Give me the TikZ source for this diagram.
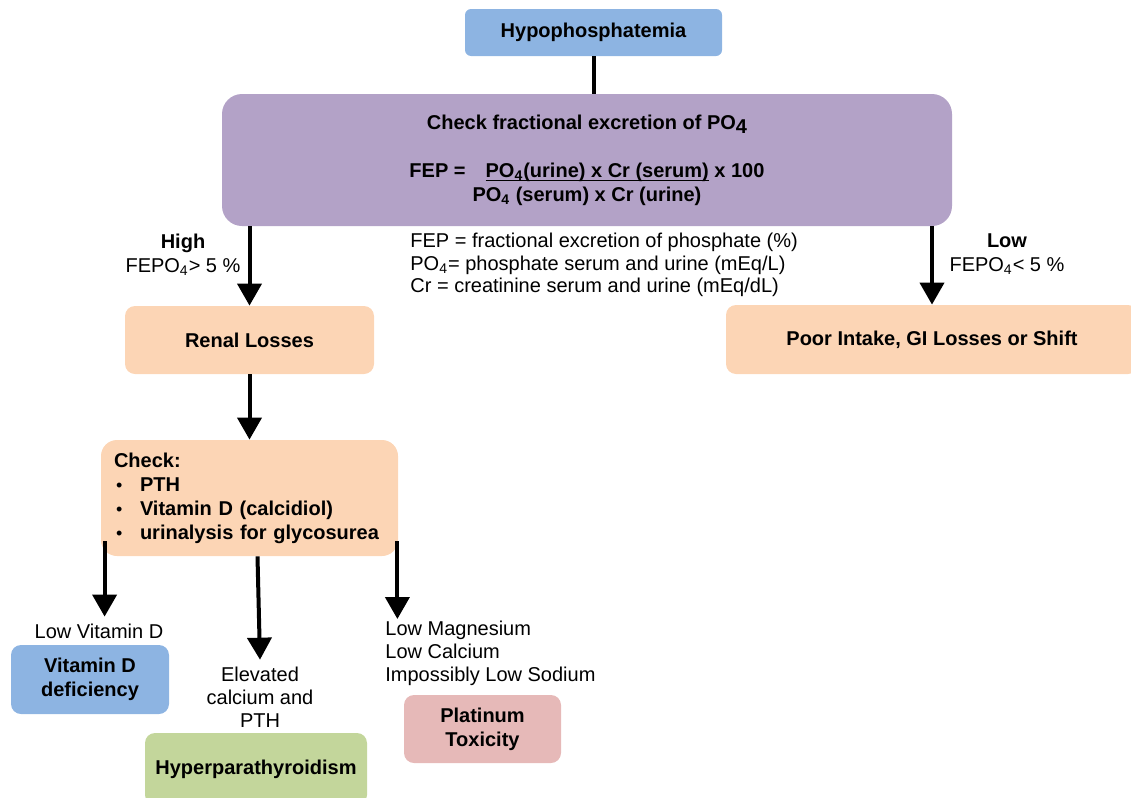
\documentclass[tikz,border=0pt]{standalone}
\usepackage{fontspec}
\setmainfont{Liberation Sans}
\usetikzlibrary{positioning, arrows.meta}

\definecolor{hblue}{HTML}{8DB4E2}
\definecolor{hpurple}{HTML}{B3A2C7}
\definecolor{hpeach}{HTML}{FCD5B5}
\definecolor{hgreen}{HTML}{C3D69B}
\definecolor{hrose}{HTML}{E6B9B8}

\newcommand{\chkitem}{\makebox[13pt][l]{\hspace{1pt}\mdseries\small\textbullet}}

\begin{document}
\begin{tikzpicture}[x=0.5pt, y=-0.5pt,
    font=\fontsize{10}{12}\selectfont,
    pbox/.style={rounded corners=5pt, inner sep=0pt, align=center, font=\fontsize{10}{12}\selectfont\bfseries},
    arr/.style={-{Triangle[length=11pt,width=12pt]}, line width=2pt}]

    \useasboundingbox (0,0) rectangle (1131,798);
    \clip (0,0) rectangle (1131,798);

    \node(hypo)[pbox,fill=hblue,rounded corners=3pt,minimum width=128.5pt,minimum height=23.5pt] at (593.5,32.5) {Hypophosphatemia};
    \node(fep)[pbox,fill=hpurple,rounded corners=10pt,minimum width=365pt,minimum height=66pt] at (587,160)
        {Check fractional excretion of PO\raisebox{-0.4ex}{4}\\[12pt]
         FEP =\quad\underline{\smash{PO\textsubscript{4}(urine) x Cr (serum)}} x 100\\
         PO\textsubscript{4} (serum) x Cr (urine)};

    \node(renal)[pbox,fill=hpeach,minimum width=124.5pt,minimum height=34pt] at (249.5,340) {Renal Losses};
    \node(poor)[pbox,fill=hpeach,minimum width=206pt,minimum height=34.5pt] at (932,339.5) {Poor Intake, GI Losses or Shift};
    \node(check)[pbox,fill=hpeach,rounded corners=8pt,minimum width=148.5pt,minimum height=58pt,text width=135.5pt,align=left] at (249.5,498)
        {Check:\\
         \chkitem PTH\\
         \chkitem Vitamin D (calcidiol)\\
         \chkitem urinalysis for glycosurea};

    \node(vitd)[pbox,fill=hblue,minimum width=79pt,minimum height=34.5pt] at (90,679.5) {Vitamin D\\deficiency};
    \node(hyper)[pbox,fill=hgreen,minimum width=111pt,minimum height=36pt] at (256,769) {Hyperparathyroidism};
    \node(plat)[pbox,fill=hrose,minimum width=78.5pt,minimum height=34pt] at (482.5,729) {Platinum\\Toxicity};

    % labels
    \node(high)[font=\fontsize{10}{12}\selectfont\bfseries] at (183,243) {High};
    \node(highfe) at (183,267) {FEPO\textsubscript{4}> 5 \%};
    \node(low)[font=\fontsize{10}{12}\selectfont\bfseries] at (1007,241) {Low};
    \node(lowfe) at (1007,266) {FEPO\textsubscript{4}< 5 \%};
    \node(legend)[align=left,anchor=north west,inner sep=0pt,font=\fontsize{10}{11.25}\selectfont] at (410,233)
        {FEP = fractional excretion of phosphate (\%)\\
         PO\textsubscript{4}= phosphate serum and urine (mEq/L)\\
         Cr = creatinine serum and urine (mEq/dL)};
    \node(lowvitd) at (99,631) {Low Vitamin D};
    \node(elev)[align=center,font=\fontsize{10}{11.5}\selectfont] at (260,697) {Elevated\\calcium and\\PTH};
    \node(lowmg)[align=left,anchor=north west,inner sep=0pt,font=\fontsize{10}{11.5}\selectfont] at (385,621)
        {Low Magnesium\\Low Calcium\\Impossibly Low Sodium};

    \draw[line width=2pt] (hypo.south) -- (fep.north -| hypo.south);
    \draw[arr] (fep.south -| renal) -- (renal);
    \draw[arr] (fep.south -| poor) -- (poor);
    \draw[arr] (renal) -- (check);
    \draw[arr] ([xshift=2pt,yshift=7.5pt]check.south west) -- ([xshift=2pt]check.south west |- lowvitd.north);
    \draw[arr] ([xshift=4pt]check.south) -- (elev.north);
    \draw[arr] ([xshift=-0.5pt,yshift=7.5pt]check.south east) -- ([xshift=-0.5pt,yshift=1pt]check.south east |- lowmg.north);

\end{tikzpicture}
\end{document}
